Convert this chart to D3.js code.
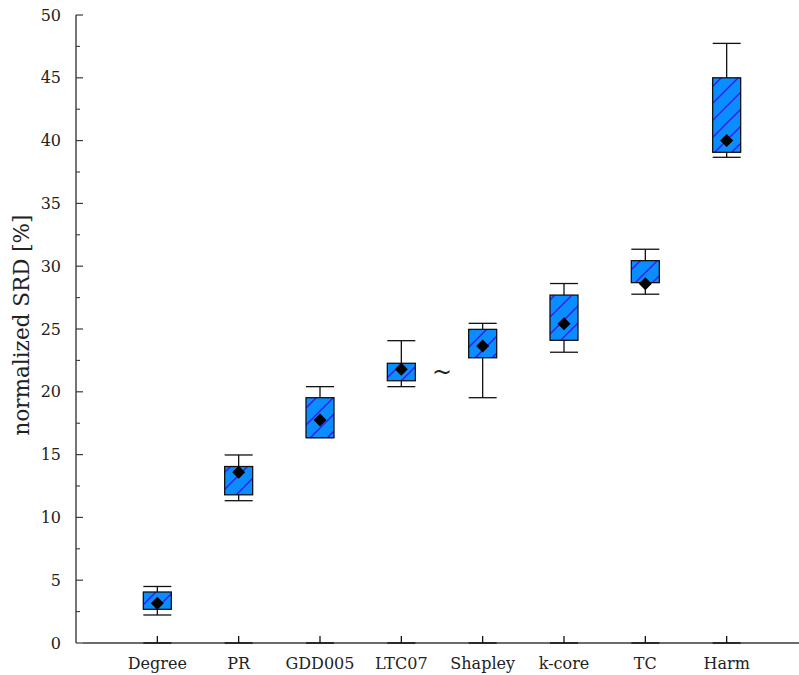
<!DOCTYPE html>
<html>
<head>
<meta charset="utf-8">
<script src="https://cdn.jsdelivr.net/npm/d3@7"></script>
<style>
  body { margin: 0; background: #fff; }
  svg text { font-family: "DejaVu Serif", "Liberation Serif", serif; }
</style>
</head>
<body>
<div id="chart"></div>
<script>
// datos
const categorias = ["Degree", "PR", "GDD005", "LTC07", "Shapley", "k-core", "TC", "Harm"];
const bigoteAlto = [4.5, 14.97, 20.41, 24.07, 25.45, 28.62, 31.35, 47.74];
const cajaAlta  = [4.06, 14.05, 19.53, 22.27, 24.97, 27.7, 30.44, 45.0];
const cajaBaja  = [2.68, 11.8, 16.35, 20.88, 22.71, 24.1, 28.69, 39.07];
const bigoteBajo = [2.23, 11.33, 16.35, 20.41, 19.53, 23.15, 27.77, 38.67];
const medias    = [3.16, 13.6, 17.75, 21.79, 23.65, 25.42, 28.6, 40.0];
const ticksY = [0, 5, 10, 15, 20, 25, 30, 35, 40, 45, 50];

const data = categorias.map((c, i) => ({
  cat: c, pos: i + 1,
  wHi: bigoteAlto[i], qHi: cajaAlta[i], qLo: cajaBaja[i], wLo: bigoteBajo[i], mean: medias[i]
}));

const fuente = "'DejaVu Serif', 'Liberation Serif', serif";
const anchoTotal = 799, altoTotal = 675;
const svg = d3.select("#chart").append("svg")
  .attr("width", anchoTotal).attr("height", altoTotal);

const defs = svg.append("defs");
const pat = defs.append("pattern")
  .attr("id", "rayas")
  .attr("patternUnits", "userSpaceOnUse")
  .attr("width", 17).attr("height", 17);
pat.append("rect").attr("width", 17).attr("height", 17).attr("fill", "#0a8eff");
pat.append("path")
  .attr("d", "M-2,19 L19,-2 M-4,4 L4,-4 M13,21 L21,13")
  .attr("stroke", "#3a1cf0").attr("stroke-width", 1.5);

const x = d3.scaleLinear().domain([0, 9]).range([76, 808]);
const y = d3.scaleLinear().domain([0, 50]).range([643, 15]);

const colorEje = "#3a3a3a";

// eje y
const gy = svg.append("g");
gy.append("line").attr("x1", 76).attr("x2", 76).attr("y1", y(50)).attr("y2", y(0))
  .attr("stroke", colorEje).attr("stroke-width", 1.4);
gy.selectAll("line.maj").data(ticksY).join("line").attr("class", "maj")
  .attr("x1", 76).attr("x2", 83).attr("y1", d => y(d)).attr("y2", d => y(d))
  .attr("stroke", colorEje).attr("stroke-width", 1.2);
gy.selectAll("line.min").data(d3.range(2.5, 50, 5)).join("line").attr("class", "min")
  .attr("x1", 76).attr("x2", 80).attr("y1", d => y(d)).attr("y2", d => y(d))
  .attr("stroke", colorEje).attr("stroke-width", 1.1);
gy.selectAll("text").data(ticksY).join("text")
  .attr("x", 61).attr("y", d => y(d)).attr("dy", "0.35em")
  .attr("text-anchor", "end").attr("font-size", 16).attr("fill", "#222")
  .attr("font-family", fuente)
  .text(d => d);

svg.append("text")
  .attr("transform", `translate(29, 325) rotate(-90)`)
  .attr("text-anchor", "middle").attr("font-size", 21.5).attr("fill", "#222")
  .attr("font-family", fuente)
  .text("normalized SRD [%]");

// eje x
const gx = svg.append("g");
gx.append("line").attr("x1", 83).attr("x2", 799).attr("y1", y(0)).attr("y2", y(0))
  .attr("stroke", colorEje).attr("stroke-width", 1.4);
gx.selectAll("line.seg").data(data).join("line").attr("class", "seg")
  .attr("x1", d => x(d.pos) - 14).attr("x2", d => x(d.pos) + 14)
  .attr("y1", y(0)).attr("y2", y(0)).attr("stroke", "#111").attr("stroke-width", 1.4);
gx.selectAll("line.tk").data(data).join("line").attr("class", "tk")
  .attr("x1", d => x(d.pos)).attr("x2", d => x(d.pos))
  .attr("y1", y(0)).attr("y2", y(0) - 7).attr("stroke", "#111").attr("stroke-width", 1.3);
gx.selectAll("text").data(data).join("text")
  .attr("x", d => x(d.pos)).attr("y", 669)
  .attr("text-anchor", "middle").attr("font-size", 16).attr("fill", "#222")
  .attr("font-family", fuente)
  .text(d => d.cat);

// cajas
const medio = 14;
const gCajas = svg.append("g").selectAll("g").data(data).join("g");
gCajas.append("line")
  .attr("x1", d => x(d.pos)).attr("x2", d => x(d.pos))
  .attr("y1", d => y(d.wHi)).attr("y2", d => y(d.wLo))
  .attr("stroke", "#111").attr("stroke-width", 1.3);
gCajas.append("line")
  .attr("x1", d => x(d.pos) - medio).attr("x2", d => x(d.pos) + medio)
  .attr("y1", d => y(d.wHi)).attr("y2", d => y(d.wHi))
  .attr("stroke", "#111").attr("stroke-width", 1.3);
gCajas.append("line")
  .attr("x1", d => x(d.pos) - medio).attr("x2", d => x(d.pos) + medio)
  .attr("y1", d => y(d.wLo)).attr("y2", d => y(d.wLo))
  .attr("stroke", "#111").attr("stroke-width", 1.3);
gCajas.append("rect")
  .attr("x", d => x(d.pos) - medio).attr("width", 2 * medio)
  .attr("y", d => y(d.qHi)).attr("height", d => y(d.qLo) - y(d.qHi))
  .attr("fill", "url(#rayas)").attr("stroke", "#111").attr("stroke-width", 1.3);
gCajas.append("path")
  .attr("transform", d => `translate(${x(d.pos)}, ${y(d.mean)})`)
  .attr("d", "M0,-6.5 L6.5,0 L0,6.5 L-6.5,0 Z")
  .attr("fill", "#000");

// tilde entre LTC07 y Shapley
svg.append("text")
  .attr("x", x(4.5)).attr("y", y(21.6)).attr("dy", "0.35em")
  .attr("text-anchor", "middle").attr("font-size", 24).attr("fill", "#222")
  .attr("font-family", fuente)
  .text("~");
</script>
</body>
</html>
